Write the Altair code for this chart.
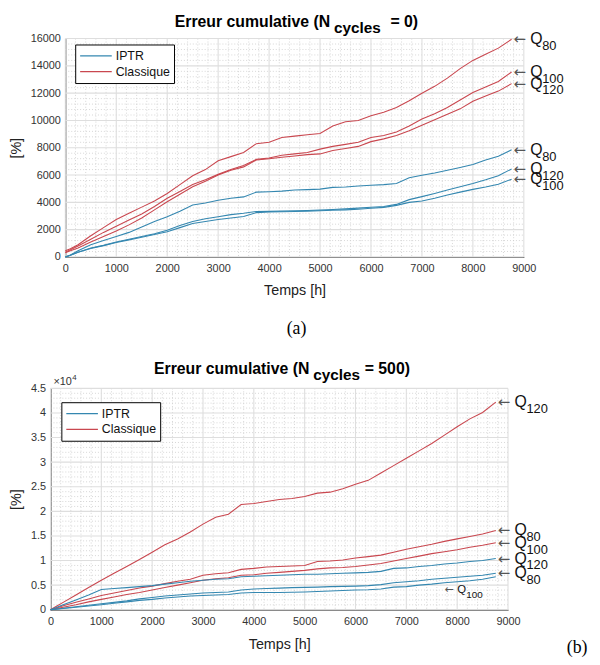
import altair as alt
import pandas as pd

# ---------------- data ----------------
T = [0, 100, 250, 500, 750, 1000, 1250, 1500, 1750, 2000, 2250, 2500, 2750, 3000,
     3250, 3500, 3750, 4000, 4250, 4500, 4750, 5000, 5250, 5500, 5750, 6000, 6250,
     6500, 6750, 7000, 7250, 7500, 7750, 8000, 8250, 8500, 8760]

# panel (a)  N_cycles = 0   [%]
A_CL_80 = [450, 600, 900, 1550, 2150, 2750, 3200, 3650, 4100, 4650, 5300, 5950, 6400, 7050,
           7350, 7650, 8300, 8400, 8750, 8850, 8950, 9050, 9600, 9900, 10000, 10350, 10600,
           10950, 11450, 12000, 12500, 13100, 13800, 14400, 14850, 15300, 15950]
A_CL_100 = [350, 520, 800, 1300, 1800, 2250, 2700, 3150, 3700, 4300, 4800, 5300, 5650, 6050,
            6400, 6700, 7150, 7250, 7450, 7550, 7650, 7900, 8100, 8250, 8400, 8750, 8900,
            9150, 9600, 10100, 10500, 10950, 11500, 12050, 12450, 12850, 13550]
A_CL_120 = [300, 450, 650, 1100, 1500, 1900, 2350, 2850, 3450, 4050, 4600, 5150, 5550, 6000,
            6350, 6600, 7100, 7200, 7300, 7400, 7500, 7550, 7800, 7950, 8100, 8450, 8650,
            8900, 9250, 9650, 10050, 10450, 10850, 11400, 11800, 12150, 12700]
A_IP_80 = [0, 150, 450, 900, 1200, 1500, 1800, 2200, 2600, 2950, 3350, 3800, 3950, 4150,
           4300, 4400, 4750, 4780, 4820, 4900, 4930, 4970, 5100, 5130, 5200, 5250, 5300,
           5380, 5800, 5980, 6150, 6350, 6550, 6770, 7100, 7380, 7850]
A_IP_120 = [0, 120, 350, 650, 850, 1100, 1300, 1500, 1700, 1950, 2300, 2600, 2800, 2950,
            3100, 3200, 3330, 3340, 3360, 3380, 3400, 3430, 3480, 3520, 3580, 3640, 3700,
            3850, 4200, 4420, 4650, 4900, 5150, 5380, 5650, 5950, 6450]
A_IP_100 = [0, 120, 350, 620, 830, 1060, 1250, 1450, 1650, 1850, 2150, 2450, 2600, 2750,
            2850, 2970, 3250, 3290, 3310, 3330, 3350, 3380, 3420, 3450, 3500, 3570, 3630,
            3780, 4000, 4100, 4300, 4540, 4750, 4950, 5120, 5320, 5700]

# panel (b)  N_cycles = 500   [% x 10^4]
B_CL_120 = [0, 0.06, 0.15, 0.30, 0.45, 0.60, 0.74, 0.88, 1.02, 1.17, 1.32, 1.44, 1.58, 1.74,
            1.88, 1.94, 2.14, 2.16, 2.20, 2.24, 2.26, 2.30, 2.37, 2.39, 2.46, 2.55, 2.63,
            2.78, 2.93, 3.08, 3.23, 3.38, 3.55, 3.72, 3.88, 4.01, 4.22]
B_CL_80 = [0, 0.03, 0.08, 0.15, 0.22, 0.29, 0.34, 0.39, 0.44, 0.48, 0.53, 0.58, 0.62, 0.70,
           0.73, 0.75, 0.82, 0.84, 0.87, 0.88, 0.89, 0.90, 0.98, 0.99, 1.01, 1.05, 1.08,
           1.11, 1.17, 1.23, 1.28, 1.33, 1.39, 1.44, 1.49, 1.54, 1.61]
B_CL_100 = [0, 0.02, 0.05, 0.10, 0.16, 0.21, 0.26, 0.31, 0.35, 0.40, 0.45, 0.50, 0.55, 0.60,
            0.63, 0.65, 0.70, 0.71, 0.74, 0.76, 0.78, 0.80, 0.83, 0.85, 0.86, 0.88, 0.91,
            0.94, 0.99, 1.04, 1.09, 1.14, 1.18, 1.22, 1.27, 1.31, 1.36]
B_IP_120 = [0, 0.04, 0.10, 0.20, 0.30, 0.41, 0.43, 0.45, 0.47, 0.49, 0.52, 0.55, 0.58, 0.60,
            0.62, 0.63, 0.67, 0.68, 0.69, 0.70, 0.71, 0.72, 0.72, 0.73, 0.74, 0.75, 0.76,
            0.78, 0.84, 0.85, 0.88, 0.90, 0.93, 0.95, 0.98, 1.00, 1.04]
B_IP_80 = [0, 0.01, 0.03, 0.06, 0.09, 0.12, 0.15, 0.18, 0.22, 0.25, 0.28, 0.30, 0.32, 0.34,
           0.35, 0.36, 0.40, 0.42, 0.43, 0.44, 0.45, 0.455, 0.46, 0.47, 0.475, 0.48, 0.49,
           0.51, 0.55, 0.57, 0.59, 0.62, 0.64, 0.66, 0.68, 0.70, 0.74]
B_IP_100 = [0, 0.01, 0.025, 0.05, 0.075, 0.10, 0.13, 0.16, 0.19, 0.21, 0.24, 0.26, 0.28, 0.29,
            0.30, 0.31, 0.34, 0.35, 0.35, 0.35, 0.355, 0.36, 0.37, 0.38, 0.39, 0.40, 0.405,
            0.42, 0.46, 0.47, 0.50, 0.52, 0.55, 0.57, 0.59, 0.62, 0.67]

METHODS = ["IPTR", "Classique"]
COLORS = ["#3487b0", "#c9474f"]

# curve-end annotations
ANN_A_X = [8760, 8760, 8760, 8760, 8760, 8760]
ANN_A_Y = [15950, 13550, 12700, 7850, 6450, 5700]
ANN_A_SUB = ["80", "100", "120", "80", "120", "100"]

ANN_B_X = [8760, 8760, 8760, 8760, 8760]
ANN_B_Y = [4.22, 1.61, 1.36, 1.04, 0.74]
ANN_B_SUB = ["120", "80", "100", "120", "80"]
ANN_B_SMALL_X = [7750]
ANN_B_SMALL_Y = [0.40]
ANN_B_SMALL_SUB = ["100"]

X_TICKS = list(range(0, 9001, 1000))
X_MINOR = [v for v in range(0, 9001, 200) if v % 1000]
A_Y_TICKS = list(range(0, 16001, 2000))
A_Y_MINOR = [v for v in range(0, 16001, 400) if v % 2000]
B_Y_TICKS = [i * 0.5 for i in range(10)]
B_Y_MINOR = [round(i * 0.1, 1) for i in range(46) if i % 5]

FONT = "Liberation Sans"

# layout of the whole figure (pixels inside the drawing group)
FIG_W, FIG_H = 548, 630
A_BOX = (15, 479, 0, 221)      # x0, x1, ytop, ybottom
B_BOX = (0, 463, 354, 578)


def curves(items):
    rows = []
    for method, q, vals in items:
        for t, v in zip(T, vals):
            rows.append({"t": t, "v": v, "method": method, "series": method + q})
    return pd.DataFrame(rows)


def text_at(txt, x, y, size, weight="normal", align="left", font=FONT, color="#000"):
    return alt.Chart(pd.DataFrame({"k": [0]})).mark_text(
        text=txt, align=align, baseline="alphabetic", font=font, fontSize=size,
        fontWeight=weight, color=color
    ).encode(x=alt.value(x), y=alt.value(y))


def panel(df, ydom, yticks, yminor, yfmt, box, ann, ann_small, ytitle_x, xtitle_y, leg_xy,
          title_tail, tpos, title_y, sub_y, extra):
    x0, x1, yt, yb = box
    xs = alt.Scale(domain=[0, 9000], nice=False, range=[x0, x1])
    ys = alt.Scale(domain=ydom, nice=False, range=[yb, yt])
    xax = alt.Axis(values=X_TICKS, title="Temps [h]", grid=False, ticks=False, orient="bottom",
                   offset=yb - FIG_H, labelPadding=6, titleY=xtitle_y, format="d",
                   labelFlush=False, labelOverlap=False)
    yax = alt.Axis(values=yticks, title="[%]", grid=False, ticks=False, orient="left",
                   offset=-x0, labelPadding=5, format=yfmt, titleX=ytitle_x,
                   titleY=(yt + yb) / 2, titleAngle=270, titleAlign="center",
                   titleBaseline="middle", labelFlush=False, labelOverlap=False)
    X = alt.X("t:Q", scale=xs, axis=xax)
    Y = alt.Y("v:Q", scale=ys, axis=yax)

    def vrules(vals, **style):
        return alt.Chart(pd.DataFrame({"t": vals})).mark_rule(**style).encode(
            x=X, y=alt.value(yt), y2=alt.value(yb))

    def hrules(vals, **style):
        return alt.Chart(pd.DataFrame({"v": vals})).mark_rule(**style).encode(
            y=Y, x=alt.value(x0), x2=alt.value(x1))

    minor = dict(color="#cccccc", strokeDash=[1, 2], strokeWidth=0.8)
    major = dict(color="#dedede", strokeWidth=1.1)
    layers = [vrules(X_MINOR, **minor), hrules(yminor, **minor),
              vrules(X_TICKS, **major), hrules(yticks, **major)]

    lines = alt.Chart(df).mark_line(strokeWidth=1.1).encode(
        x=X,
        y=Y,
        color=alt.Color("method:N", scale=alt.Scale(domain=METHODS, range=COLORS),
                        legend=alt.Legend(title=None, orient="none", legendX=leg_xy[0],
                                          legendY=leg_xy[1], strokeColor="black",
                                          fillColor="white", padding=4,
                                          symbolType="stroke", symbolSize=1024,
                                          symbolStrokeWidth=1.2, labelFont=FONT,
                                          labelFontSize=12.5, labelColor="#111",
                                          clipHeight=15, rowPadding=1, labelOffset=3)),
        detail="series:N",
        order="t:Q",
    )
    layers.append(lines)

    def ann_layers(xv, yv, sv, big=True):
        d = pd.DataFrame({"t": xv, "v": yv, "sub": sv})
        base = alt.Chart(d).encode(x=X, y=Y)
        if big:
            fa, fq, fs, dq, ds, dy, da = 15, 16, 13, 19, 31, 7, 2
        else:
            fa, fq, fs, dq, ds, dy, da = 11, 11.5, 10, 13, 22, 5, 0
        return [
            base.mark_text(text="←", align="left", baseline="middle", dx=da, font="DejaVu Sans",
                           fontSize=fa, color="#555"),
            base.mark_text(text="Q", align="left", baseline="middle", dx=dq, font=FONT,
                           fontSize=fq, color="#111"),
            base.mark_text(align="left", baseline="middle", dx=ds, dy=dy, font=FONT,
                           fontSize=fs, color="#111").encode(text="sub:N"),
        ]

    layers += ann_layers(*ann)
    if ann_small is not None:
        layers += ann_layers(*ann_small, big=False)

    tmain, tsub, ttail = tpos
    layers += [
        text_at("Erreur cumulative (N", tmain, title_y, 16, "bold", align="right"),
        text_at("cycles", tsub, sub_y, 15.5, "bold"),
        text_at(title_tail, ttail, title_y, 16, "bold"),
    ]
    layers += extra
    return alt.layer(*layers)


df_a = curves([("Classique", "80", A_CL_80), ("Classique", "100", A_CL_100),
               ("Classique", "120", A_CL_120), ("IPTR", "80", A_IP_80),
               ("IPTR", "120", A_IP_120), ("IPTR", "100", A_IP_100)])
df_b = curves([("Classique", "120", B_CL_120), ("Classique", "80", B_CL_80),
               ("Classique", "100", B_CL_100), ("IPTR", "120", B_IP_120),
               ("IPTR", "80", B_IP_80), ("IPTR", "100", B_IP_100)])

pa = panel(df_a, [0, 16000], A_Y_TICKS, A_Y_MINOR, "d", A_BOX,
           (ANN_A_X, ANN_A_Y, ANN_A_SUB), None, -49, 27, (25, 6),
           "= 0)", (283, 287, 344), -12, -6,
           [text_at("(a)", 249, 299, 18, font="Liberation Serif", align="center")])
pb = panel(df_b, [0, 4.5], B_Y_TICKS, B_Y_MINOR, "~g", B_BOX,
           (ANN_B_X, ANN_B_Y, ANN_B_SUB), (ANN_B_SMALL_X, ANN_B_SMALL_Y, ANN_B_SMALL_SUB),
           -34, 28, (11, 368),
           "= 500)", (262, 266, 318), 339, 346,
           [text_at("×10", 3, 351, 11, color="#333"),
            text_at("4", 22, 346, 8, color="#333"),
            text_at("(b)", 533, 622, 18, font="Liberation Serif", align="center")])

chart = alt.layer(pa, pb).resolve_scale(
    x="independent", y="independent", color="independent"
).resolve_axis(
    x="independent", y="independent"
).resolve_legend(
    color="independent"
).properties(
    width=FIG_W, height=FIG_H,
    autosize=alt.AutoSizeParams(type="none"),
    padding={"left": 43, "top": 27, "right": 0, "bottom": 0},
).configure_view(
    stroke=None
).configure_axis(
    domainColor="#333", domainWidth=1, labelColor="#333", labelFont=FONT, labelFontSize=11,
    titleFont=FONT, titleFontSize=14.5, titleFontWeight="normal", titleColor="#222"
)

chart.save("out.html", embed_options={"renderer": "svg", "actions": False})
